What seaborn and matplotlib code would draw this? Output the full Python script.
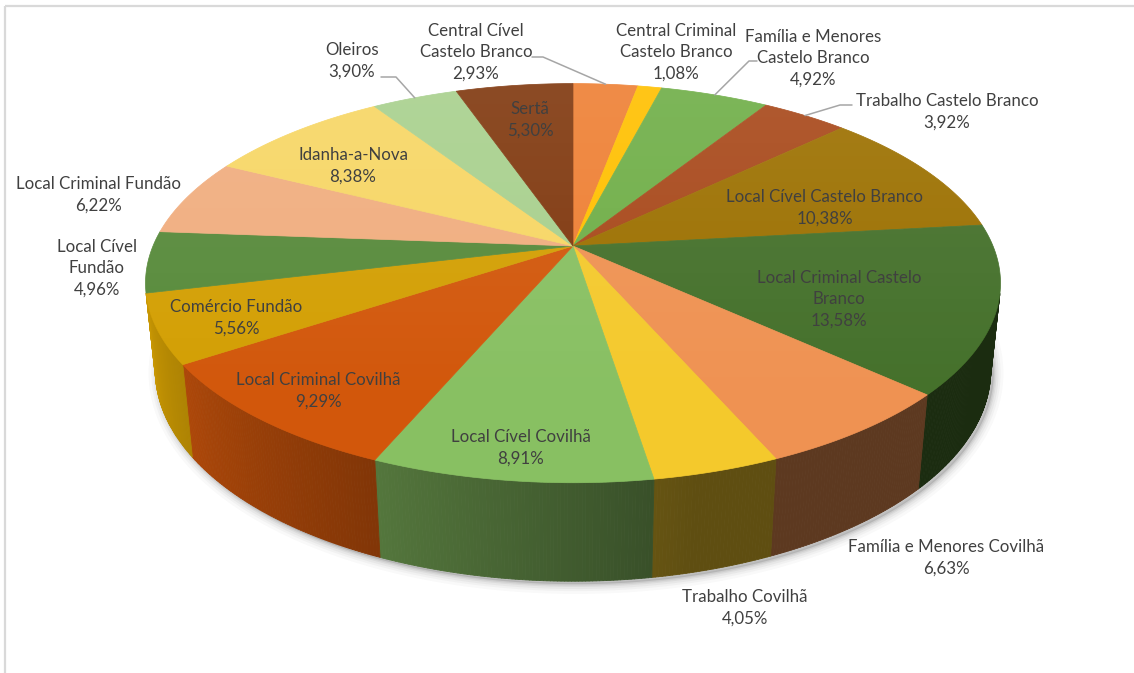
import numpy as np
import matplotlib
matplotlib.use("Agg")
import matplotlib.pyplot as plt
from matplotlib.collections import PolyCollection
from matplotlib.patches import Polygon, Rectangle
import matplotlib.colors as mcolors
import seaborn as sns

# ---- data -------------------------------------------------------------
categories = [
    "Central Cível\nCastelo Branco", "Central Criminal\nCastelo Branco",
    "Família e Menores\nCastelo Branco", "Trabalho Castelo Branco",
    "Local Cível Castelo Branco", "Local Criminal Castelo\nBranco",
    "Família e Menores Covilhã", "Trabalho Covilhã", "Local Cível Covilhã",
    "Local Criminal Covilhã", "Comércio Fundão", "Local Cível\nFundão",
    "Local Criminal Fundão", "Idanha-a-Nova", "Oleiros", "Sertã",
]
shares = [2.93, 1.08, 4.92, 3.92, 10.38, 13.58, 6.63, 4.05, 8.91, 9.29,
          5.56, 4.96, 6.22, 8.38, 3.90, 5.30]
slice_hex = ["#EE8034", "#FFC000", "#6FAE47", "#A8481A", "#9C7000", "#44702A",
             "#EF9252", "#F4C92C", "#88C062", "#D2570B", "#D39F03", "#578A3A",
             "#F1AD7E", "#F7D664", "#A8D08D", "#80380E"]

# label block centres and leader-line anchors (figure pixels)
label_xy = [(476, 52), (676, 52), (813, 58), (947, 112), (825, 208),
            (839, 299), (946, 558), (745, 608), (521, 448), (318, 391),
            (236, 318), (97, 268), (99, 195), (353, 166), (352, 61), (530, 120)]
leaders = {0: [(532, 57), (543, 57)], 2: [(757, 61), (749, 61)],
           3: [(852, 105), (840, 105)], 14: [(381, 77), (396, 77)]}

# ---- style ------------------------------------------------------------
sns.set_theme(style="white")
plt.rcParams["font.family"] = ["Lato", "DejaVu Sans"]
palette = sns.color_palette(slice_hex)

W, H = 1134, 673
fig = plt.figure(figsize=(W / 100, H / 100), dpi=100)
ax = fig.add_axes([0, 0, 1, 1])
ax.set_xlim(0, W)
ax.set_ylim(H, 0)
ax.axis("off")

# ---- 3D projection of a disc (radius 1) --------------------------------
CX, CY = 573, 246
SCALE = 420
ELEV = np.radians(27.3)
sn, cs = np.sin(ELEV), np.cos(ELEV)
DIST = 4.77
THICK = 0.235


def proj(theta, z):
    x, y = np.cos(theta), np.sin(theta)
    u = y * sn + z * cs
    w = y * cs - z * sn
    f = DIST / (DIST + w)
    return CX + SCALE * x * f, CY - SCALE * u * f


vals = np.array(shares)
frac = vals / vals.sum()
cum = np.concatenate([[0], np.cumsum(frac)])
t_start = np.pi / 2 - 2 * np.pi * cum[:-1]
t_end = np.pi / 2 - 2 * np.pi * cum[1:]

# ---- soft drop shadow under the solid ----------------------------------
tt = np.linspace(0, 2 * np.pi, 400)
bx, by = proj(tt, -THICK)
for lw, a in [(14, 0.03), (10, 0.04), (7, 0.05), (4, 0.07), (2, 0.09)]:
    ax.plot(bx + 3, by + 3, color="#404040", lw=lw, alpha=a,
            solid_capstyle="round", zorder=1)
ax.fill(bx + 3, by + 3, color="#808080", alpha=0.3, zorder=1, lw=0)

# ---- outer wall (only the part facing the viewer) ----------------------
limit = -1.0 / (DIST * cs)
quads, qcols = [], []
for i in range(len(vals)):
    n = max(4, int(abs(t_end[i] - t_start[i]) / np.radians(0.4)))
    ts = np.linspace(t_start[i], t_end[i], n + 1)
    base = np.array(mcolors.to_rgb(palette[i]))
    for a, b in zip(ts[:-1], ts[1:]):
        m = ((a + b) / 2) % (2 * np.pi)
        if np.sin(m) >= limit:
            continue
        deg = np.degrees(m)
        shade = np.clip(0.97 - 0.0062 * (deg - 190), 0.39, 1.0)
        x0, y0 = proj(a, 0)
        x1, y1 = proj(b, 0)
        x2, y2 = proj(b, -THICK)
        x3, y3 = proj(a, -THICK)
        quads.append([(x0, y0), (x1, y1), (x2, y2), (x3, y3)])
        qcols.append(np.clip(base * shade, 0, 1))
ax.add_collection(PolyCollection(quads, facecolors=qcols, edgecolors=qcols,
                                 linewidths=0.6, zorder=2))

# ---- top faces ---------------------------------------------------------
for i in range(len(vals)):
    n = max(6, int(abs(t_end[i] - t_start[i]) / np.radians(0.5)))
    ts = np.linspace(t_start[i], t_end[i], n + 1)
    xs, ys = proj(ts, 0)
    pts = [(CX, CY)] + list(zip(xs, ys))
    ax.add_patch(Polygon(pts, closed=True, facecolor=palette[i],
                         edgecolor=palette[i], lw=0.5, zorder=3))

# light sheen over the top surface, brighter toward the back
rim_x, rim_y = proj(tt, 0)
rim = Polygon(list(zip(rim_x, rim_y)), closed=True, transform=ax.transData,
              facecolor="none", edgecolor="none")
ax.add_patch(rim)
grad = np.zeros((200, 2, 4))
grad[..., :3] = 1.0
alpha = np.clip(np.linspace(0.10, -0.02, 200), 0, None)
grad[..., 3] = alpha[:, None]
im = ax.imshow(grad, extent=(rim_x.min(), rim_x.max(), rim_y.max(), rim_y.min()),
               aspect="auto", zorder=4, interpolation="bilinear")
im.set_clip_path(rim)
ax.set_xlim(0, W)
ax.set_ylim(H, 0)

# ---- labels ------------------------------------------------------------
TEXT = "#404040"
for i, (name, v) in enumerate(zip(categories, shares)):
    pct = f"{v:.2f}".replace(".", ",") + "%"
    x, y = label_xy[i]
    ax.text(x, y, f"{name}\n{pct}", ha="center", va="center", fontsize=12.2,
            color=TEXT, linespacing=1.42, zorder=6)

for i, pts in leaders.items():
    mid = (t_start[i] + t_end[i]) / 2
    ex, ey = proj(mid, 0)
    xs = [p[0] for p in pts] + [ex]
    ys = [p[1] for p in pts] + [ey]
    ax.plot(xs, ys, color="#A6A6A6", lw=1.1, zorder=5)

# chart border
ax.add_patch(Rectangle((5, 6), W, H, facecolor="none", edgecolor="#D9D9D9",
                       lw=1.6, zorder=7))

fig.savefig("out.png", dpi=100)
